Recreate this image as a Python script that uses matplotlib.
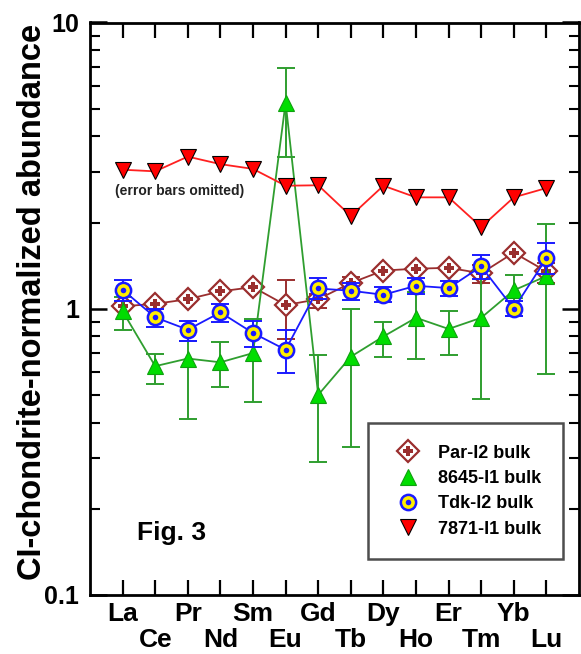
import numpy as np
import matplotlib
matplotlib.use("Agg")
import matplotlib.pyplot as plt
from matplotlib.lines import Line2D
from matplotlib.legend_handler import HandlerTuple
from matplotlib.ticker import FixedLocator, FuncFormatter, NullFormatter

plt.rcParams['font.family'] = ['Liberation Sans', 'DejaVu Sans']
plt.rcParams['font.weight'] = 'bold'

elements = ["La", "Ce", "Pr", "Nd", "Sm", "Eu", "Gd", "Tb", "Dy", "Ho", "Er", "Tm", "Yb", "Lu"]

par_val = [1.02, 1.04, 1.08, 1.15, 1.19, 1.03, 1.08, 1.23, 1.36, 1.38, 1.39, 1.33, 1.57, 1.35]
par_lo = [np.nan, np.nan, np.nan, np.nan, np.nan, 0.785, 1.005, 1.17, np.nan, np.nan, np.nan, 1.235, np.nan, 1.235]
par_hi = [np.nan, np.nan, np.nan, np.nan, np.nan, 1.26, 1.13, 1.286, np.nan, np.nan, np.nan, 1.42, np.nan, 1.45]

grn_val = [0.98, 0.63, 0.67, 0.65, 0.70, 5.25, 0.50, 0.68, 0.80, 0.93, 0.85, 0.93, 1.16, 1.30]
grn_lo = [0.84, 0.546, 0.412, 0.532, 0.474, 3.39, 0.292, 0.328, 0.676, 0.667, 0.691, 0.484, 0.945, 0.592]
grn_hi = [1.10, 0.695, 0.773, 0.763, 0.924, 6.95, 0.689, 1.0, 0.901, 1.14, 0.984, 1.35, 1.31, 1.98]

tdk_val = [1.165, 0.933, 0.845, 0.971, 0.823, 0.719, 1.177, 1.156, 1.119, 1.203, 1.181, 1.405, 1.0, 1.5]
tdk_lo = [1.066, 0.86, 0.773, 0.896, 0.737, 0.595, 1.08, 1.072, 1.052, 1.125, 1.11, 1.27, 0.945, 1.32]
tdk_hi = [1.26, 1.0, 0.908, 1.04, 0.908, 0.845, 1.28, 1.235, 1.187, 1.28, 1.25, 1.54, 1.066, 1.70]

red_val = [3.06, 3.02, 3.40, 3.20, 3.08, 2.69, 2.70, 2.11, 2.69, 2.45, 2.45, 1.93, 2.45, 2.64]

series_names = ["Par-I2 bulk", "8645-I1 bulk", "Tdk-I2 bulk", "7871-I1 bulk"]
fig_label = "Fig. 3"
note_text = "(error bars omitted)"
ylabel = "CI-chondrite-normalized abundance"

x = np.arange(len(elements))

fig = plt.figure(figsize=(5.81, 6.54), dpi=100)
ax = fig.add_axes([90/581, 1-595/654, (579-90)/581, (595-22.5)/654])

BROWN = '#9a2e2e'
GREEN_LINE = '#2f9e2f'
GREEN_FILL = '#00dd00'
BLUE = '#1a1aff'
YELLOW = '#ffee00'
RED = '#ff2020'


def err_subset(vals, lo, hi):
    vals = np.array(vals); lo = np.array(lo); hi = np.array(hi)
    m = np.isfinite(lo) & np.isfinite(hi)
    return x[m], vals[m], np.vstack([vals[m] - lo[m], hi[m] - vals[m]])

# Par-I2
xe, ve, ee = err_subset(par_val, par_lo, par_hi)
ax.errorbar(xe, ve, yerr=ee, fmt='none', ecolor=BROWN, elinewidth=1.4, capsize=6.5, capthick=1.4, zorder=2)
ax.plot(x, par_val, '-', color=BROWN, lw=1.3, zorder=2.1)
ax.plot(x, par_val, 'D', ms=11.5, mfc='white', mec=BROWN, mew=1.6, ls='none', zorder=2.2)
ax.plot(x, par_val, 'P', ms=6.5, mfc=BROWN, mec=BROWN, mew=0, ls='none', zorder=2.3)

# 8645-I1
xe, ve, ee = err_subset(grn_val, grn_lo, grn_hi)
ax.errorbar(xe, ve, yerr=ee, fmt='none', ecolor=GREEN_LINE, elinewidth=1.4, capsize=6.5, capthick=1.4, zorder=3)
ax.plot(x, grn_val, '-', color=GREEN_LINE, lw=1.3, zorder=3.1)
ax.plot(x, grn_val, '^', ms=12, mfc=GREEN_FILL, mec='#10a010', mew=0.8, ls='none', zorder=3.2)

# Tdk-I2
xe, ve, ee = err_subset(tdk_val, tdk_lo, tdk_hi)
ax.errorbar(xe, ve, yerr=ee, fmt='none', ecolor=BLUE, elinewidth=1.4, capsize=6.5, capthick=1.4, zorder=4)
ax.plot(x, tdk_val, '-', color=BLUE, lw=1.3, zorder=4.1)
ax.plot(x, tdk_val, 'o', ms=11, mfc=YELLOW, mec=BLUE, mew=1.8, ls='none', zorder=4.2)
ax.plot(x, tdk_val, 'o', ms=4, mfc=BLUE, mec=BLUE, mew=0, ls='none', zorder=4.3)

# 7871-I1
ax.plot(x, red_val, '-', color=RED, lw=1.3, zorder=5)
ax.plot(x, red_val, 'v', ms=11, mfc='#ff0000', mec='black', mew=0.8, ls='none', zorder=5.1)

ax.set_yscale('log')
ax.set_ylim(0.1, 10)
ax.set_xlim(-1, 14)

# y ticks
ax.yaxis.set_major_locator(FixedLocator([0.1, 1, 10]))
ax.yaxis.set_major_formatter(FuncFormatter(lambda v, p: {0.1: '0.1', 1: '1', 10: '10'}.get(round(v, 3), '')))
minors = [m * d for d in (0.1, 1) for m in range(2, 10)]
ax.yaxis.set_minor_locator(FixedLocator(minors))
ax.yaxis.set_minor_formatter(NullFormatter())
ax.tick_params(axis='y', which='major', direction='in', length=12, width=1.8, left=True, right=True,
               labelsize=18, pad=8)
ax.tick_params(axis='y', which='minor', direction='in', length=7, width=1.5, left=True, right=True)

# x ticks (staggered)
ax.set_xticks(x[0::2])
ax.set_xticklabels(elements[0::2])
ax.set_xticks(x[1::2], minor=True)
ax.set_xticklabels(elements[1::2], minor=True)
ax.tick_params(axis='x', which='both', direction='in', length=11, width=1.6, top=True, bottom=True,
               labelsize=19)
ax.tick_params(axis='x', which='major', pad=5)
ax.tick_params(axis='x', which='minor', pad=24)
for lab in ax.get_xticklabels(which='both') + ax.get_yticklabels():
    lab.set_fontweight('bold')

for s in ax.spines.values():
    s.set_linewidth(2)

ax.set_ylabel(ylabel, fontsize=23.5, fontweight='bold')
ax.yaxis.set_label_coords(-0.085, 0.512)

ax.text(0.096, 0.108, fig_label, transform=ax.transAxes, fontsize=19, fontweight='bold', ha='left', va='center')
ax.text(0.051, 0.705, note_text, transform=ax.transAxes, fontsize=10, fontweight='bold', ha='left', va='center',
        color='#222222')

# legend
h1 = (Line2D([], [], marker='D', ms=11.5, mfc='white', mec=BROWN, mew=1.6, ls='none'),
      Line2D([], [], marker='P', ms=6.5, mfc=BROWN, mec=BROWN, mew=0, ls='none'))
h2 = Line2D([], [], marker='^', ms=12, mfc=GREEN_FILL, mec='#10a010', mew=0.8, ls='none')
h3 = (Line2D([], [], marker='o', ms=11, mfc=YELLOW, mec=BLUE, mew=1.8, ls='none'),
      Line2D([], [], marker='o', ms=4, mfc=BLUE, mec=BLUE, mew=0, ls='none'))
h4 = Line2D([], [], marker='v', ms=11, mfc='#ff0000', mec='black', mew=0.8, ls='none')
leg = ax.legend([h1, h2, h3, h4], series_names, handler_map={tuple: HandlerTuple(ndivide=1, pad=0)},
                loc='upper left', bbox_to_anchor=(0.5685, 0.3004), borderaxespad=0,
                prop={'size': 13, 'weight': 'bold'}, frameon=True, fancybox=False,
                borderpad=1.2, labelspacing=0.46, handlelength=2.0, handletextpad=0.7)
leg.get_frame().set_edgecolor('#222222')
leg.get_frame().set_linewidth(1.8)
leg.set_zorder(10)

fig.savefig('out.png', dpi=100)
